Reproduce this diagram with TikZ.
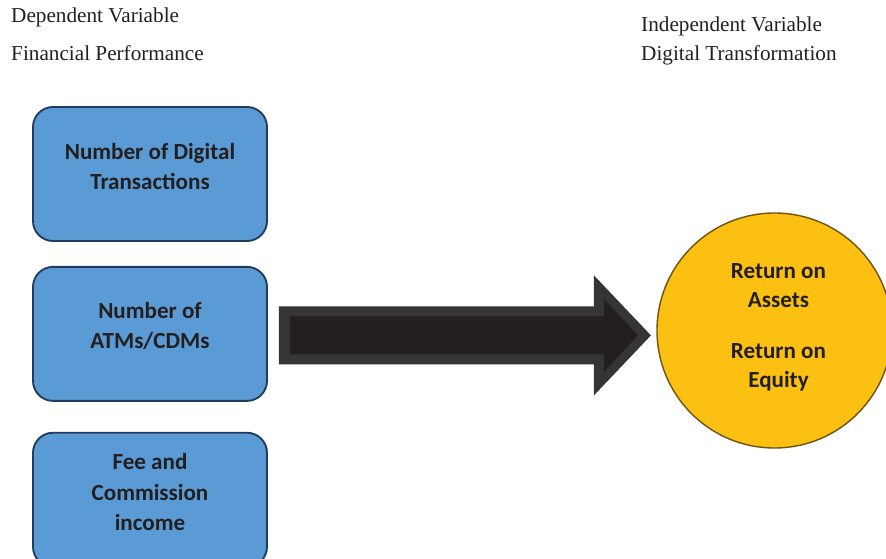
\documentclass[tikz,border=0pt]{standalone}
\usepackage{fontspec}
\setmainfont{Liberation Serif}
\newfontfamily\calibri{Carlito}
\usepackage{tikz}
\usetikzlibrary{positioning,calc}

\definecolor{boxblue}{HTML}{5B9BD5}
\definecolor{boxline}{HTML}{213D5E}
\definecolor{roayellow}{HTML}{FBC012}
\definecolor{roaline}{HTML}{6E5410}
\definecolor{ink}{HTML}{231F20}
\definecolor{arrowedge}{HTML}{353535}

\begin{document}
\begin{tikzpicture}[x=0.03cm, y=-0.03cm,
			every node/.style={align=center, text=ink},
			heading/.style={anchor=base west, inner sep=0pt, font=\fontsize{18.1pt}{21pt}\selectfont},
			factor/.style={draw=boxline, line width=1.6pt, fill=boxblue, rounded corners=0.6cm,
				minimum width=7.02cm, minimum height=4.02cm},
			outcome/.style={circle, draw=roaline, line width=1.2pt, fill=roayellow, minimum size=7.05cm},
			boldtext/.style={inner sep=0pt, font=\calibri\bfseries\fontsize{19.7pt}{26pt}\selectfont}]

	\useasboundingbox (0,0) rectangle (886,559);
	\clip (0,0) rectangle (886,559);

	% headings
	\node [heading] (dep) at (11,22) {Dependent Variable};
	\node [heading] (fin) at (11,60) {Financial Performance};
	\node [heading] (ind) at (641,31.5) {Independent Variable};
	\node [heading] (dig) at (641,60) {Digital Transformation};

	% the three boxes on the left
	\node [factor] (digi) at (150,174) {};
	\node [factor] (atm) [below=0.72cm of digi] {};
	\node [factor] (fee) [below=0.90cm of atm] {};

	\node [boldtext] (digi-t) at ([yshift=6.6pt]digi.center) {Number of Digital\\Transactions};
	\node [boldtext] (atm-t) at ([yshift=6.6pt]atm.center) {Number of\\ATMs/CDMs};
	\node [boldtext] (fee-t) at ([yshift=6.6pt]fee.center) {Fee and\\Commission\\income};

	% result circle
	\node [outcome] (roa) at (774.5,330.5) {};
	\node [boldtext, font=\calibri\bfseries\fontsize{19.7pt}{25pt}\selectfont] (roa-t)
		at ([xshift=3.4pt, yshift=2.6pt]roa.center) {Return on\\Assets\\[18pt]Return on\\Equity};

	% block arrow from the boxes to the circle
	\begin{scope}[shift={(atm.east)}]
		\fill[arrowedge] (11,-27.5) -- (326,-27.5) -- (326,-58.5) -- (383,1.5)
			-- (326,61.5) -- (326,30.5) -- (11,30.5) -- cycle;
		\fill[ink] (22,-17.5) -- (336,-17.5) -- (336,-35) -- (370,1.5)
			-- (336,38) -- (336,20.5) -- (22,20.5) -- cycle;
	\end{scope}

\end{tikzpicture}
\end{document}
